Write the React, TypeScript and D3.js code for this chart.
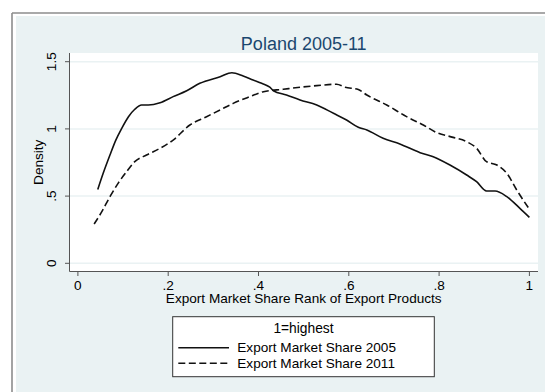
import React from "react";
import * as d3 from "d3";

// Kernel density estimates of export market share rank (1 = highest)
const rank2005 = [0.044, 0.056, 0.071, 0.084, 0.097, 0.112, 0.126, 0.141, 0.156, 0.182, 0.211, 0.241, 0.27, 0.315, 0.341, 0.366, 0.388, 0.407, 0.425, 0.433, 0.462, 0.492, 0.529, 0.566, 0.595, 0.621, 0.64, 0.676, 0.713, 0.758, 0.787, 0.824, 0.861, 0.883, 0.905, 0.924, 0.95, 0.979, 1.0];
const density2005 = [0.55, 0.67, 0.806, 0.917, 1.004, 1.091, 1.146, 1.178, 1.178, 1.195, 1.24, 1.284, 1.339, 1.388, 1.418, 1.394, 1.364, 1.339, 1.31, 1.284, 1.252, 1.215, 1.178, 1.116, 1.066, 1.012, 0.992, 0.93, 0.888, 0.823, 0.793, 0.731, 0.657, 0.607, 0.538, 0.538, 0.496, 0.409, 0.342];

const rank2011 = [0.036, 0.053, 0.071, 0.089, 0.108, 0.126, 0.152, 0.182, 0.211, 0.248, 0.285, 0.315, 0.344, 0.381, 0.411, 0.455, 0.492, 0.529, 0.573, 0.592, 0.621, 0.64, 0.684, 0.728, 0.765, 0.795, 0.831, 0.861, 0.883, 0.905, 0.928, 0.95, 0.972, 1.0];
const density2011 = [0.292, 0.384, 0.496, 0.595, 0.682, 0.756, 0.806, 0.856, 0.917, 1.029, 1.091, 1.141, 1.19, 1.24, 1.277, 1.295, 1.31, 1.322, 1.332, 1.31, 1.293, 1.252, 1.178, 1.091, 1.029, 0.972, 0.937, 0.905, 0.856, 0.756, 0.731, 0.67, 0.545, 0.402];

const xTicks = [0, 0.2, 0.4, 0.6, 0.8, 1];
const xTickLabels = ["0", ".2", ".4", ".6", ".8", "1"];
const yTicks = [0, 0.5, 1, 1.5];
const yTickLabels = ["0", ".5", "1", "1.5"];

const seriesNames = ["Export Market Share 2005", "Export Market Share 2011"];
const legendTitle = "1=highest";
const chartTitle = "Poland 2005-11";
const xTitle = "Export Market Share Rank of Export Products";
const yTitle = "Density";

const W = 545;
const H = 392;
const plot = { left: 69.5, right: 538, top: 53, bottom: 271.5 };
const FONT = "'Liberation Sans', Arial, sans-serif";
const BG = "#eaf2f3";
const AXIS = "#555";

export default function App() {
  const x = d3.scaleLinear().domain([0, 1]).range([77.9, 529.4]);
  const y = d3.scaleLinear().domain([0, 1.5]).range([263.3, 61.7]);

  const line = d3
    .line<[number, number]>()
    .x((d) => x(d[0]))
    .y((d) => y(d[1]))
    .curve(d3.curveMonotoneX);

  const path2005 = line(rank2005.map((r, i) => [r, density2005[i]]) as [number, number][]) || "";
  const path2011 = line(rank2011.map((r, i) => [r, density2011[i]]) as [number, number][]) || "";

  const cx = (plot.left + plot.right) / 2;
  const legend = { x: 172.7, y: 316.7, w: 261.6, h: 60 };
  const dash = "7,3.5";

  return (
    <svg
      width={W}
      height={H}
      style={{ position: "absolute", left: 0, top: 0 }}
      fontFamily={FONT}
    >
      <rect x={0} y={0} width={W} height={H} fill="#ffffff" />
      {/* outer frame */}
      <rect x={16} y={16} width={W - 16} height={H - 16} fill={BG} />
      <line x1={12} y1={13} x2={W} y2={13} stroke="#8c8c8c" strokeWidth={1.6} />
      <line x1={12} y1={13} x2={12} y2={H} stroke="#8c8c8c" strokeWidth={1.6} />

      {/* plot region */}
      <rect
        x={plot.left}
        y={plot.top}
        width={plot.right - plot.left}
        height={plot.bottom - plot.top}
        fill="#ffffff"
      />
      {yTicks.map((t) => (
        <line
          key={"g" + t}
          x1={plot.left}
          x2={plot.right}
          y1={y(t)}
          y2={y(t)}
          stroke={BG}
          strokeWidth={1.5}
        />
      ))}

      {/* axes */}
      <line x1={plot.left} x2={plot.left} y1={plot.top} y2={plot.bottom} stroke={AXIS} strokeWidth={1} />
      <line x1={plot.left} x2={plot.right} y1={plot.bottom} y2={plot.bottom} stroke={AXIS} strokeWidth={1} />
      {yTicks.map((t, i) => (
        <g key={"y" + t}>
          <line x1={plot.left - 4.5} x2={plot.left} y1={y(t)} y2={y(t)} stroke={AXIS} strokeWidth={1} />
          <text
            transform={`translate(51.5,${y(t)}) rotate(-90)`}
            textAnchor="middle"
            dominantBaseline="central"
            fontSize={13.6}
            fill="#000"
          >
            {yTickLabels[i]}
          </text>
        </g>
      ))}
      {xTicks.map((t, i) => (
        <g key={"x" + t}>
          <line x1={x(t)} x2={x(t)} y1={plot.bottom} y2={plot.bottom + 4.5} stroke={AXIS} strokeWidth={1} />
          <text x={x(t)} y={285.5} textAnchor="middle" dominantBaseline="central" fontSize={13.6} fill="#000">
            {xTickLabels[i]}
          </text>
        </g>
      ))}

      <text
        transform={`translate(38.3,${(plot.top + plot.bottom) / 2}) rotate(-90)`}
        textAnchor="middle"
        dominantBaseline="central"
        fontSize={13.6}
        fill="#000"
      >
        {yTitle}
      </text>
      <text x={cx} y={298.5} textAnchor="middle" dominantBaseline="central" fontSize={13.6} fill="#000">
        {xTitle}
      </text>
      <text x={cx} y={43.5} textAnchor="middle" dominantBaseline="central" fontSize={18} fill="#1a476f">
        {chartTitle}
      </text>

      {/* density curves */}
      <path d={path2005} fill="none" stroke="#111" strokeWidth={1.6} />
      <path d={path2011} fill="none" stroke="#111" strokeWidth={1.6} strokeDasharray={dash} />

      {/* legend */}
      <rect
        x={legend.x}
        y={legend.y}
        width={legend.w}
        height={legend.h}
        fill="#ffffff"
        stroke="#333"
        strokeWidth={1}
      />
      <text
        x={legend.x + legend.w / 2}
        y={328.5}
        textAnchor="middle"
        dominantBaseline="central"
        fontSize={13.8}
        fill="#000"
      >
        {legendTitle}
      </text>
      {seriesNames.map((name, i) => {
        const ly = 347.7 + i * 15.6;
        return (
          <g key={name}>
            <line
              x1={178.3}
              x2={229}
              y1={ly}
              y2={ly}
              stroke="#111"
              strokeWidth={1.6}
              strokeDasharray={i === 1 ? dash : undefined}
            />
            <text x={237.3} y={ly} dominantBaseline="central" fontSize={13.6} fill="#000">
              {name}
            </text>
          </g>
        );
      })}
    </svg>
  );
}
